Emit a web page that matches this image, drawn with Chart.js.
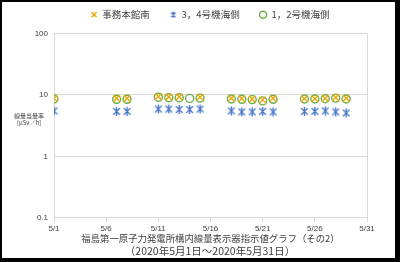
<!DOCTYPE html>
<html>
<head>
<meta charset="utf-8">
<script src="https://cdn.jsdelivr.net/npm/chart.js@4"></script>
<style>
  body { margin: 0; background: #fff; }
  #wrap { position: relative; width: 400px; height: 262px; }
  #frame {
    position: absolute; left: 0; top: 0; width: 400px; height: 262px; box-sizing: border-box;
    border-top: 2px solid #000; border-left: 2px solid #000;
    border-right: 5px solid #000; border-bottom: 4px solid #000;
    pointer-events: none;
  }
  #ytitle {
    position: absolute; left: 12px; top: 112px; width: 34px; text-align: center;
    font: 6px "Noto Sans CJK JP", sans-serif; line-height: 7px; color: #404040;
  }
</style>
</head>
<body>
<div id="wrap">
  <canvas id="chart" width="400" height="262"></canvas>
  <div id="ytitle">線量当量率<br>[μSv／h]</div>
  <div id="frame"></div>
</div>
<script>
"use strict";

// 日付（5月の日）
const days = [1, 7, 8, 11, 12, 13, 14, 15, 18, 19, 20, 21, 22, 25, 26, 27, 28, 29];

// 各測定点の値 [μSv/h]
const honkanMinami = [8.8, 8.8, 8.8, 9.4, 9.3, 9.3, null, 9.2, 8.8, 8.7, 8.6, 8.3, 8.8, 8.7, 8.7, 8.8, 9.1, 8.8];
const gouki34 = [5.5, 5.4, 5.4, 5.9, 5.9, 5.8, 5.8, 5.9, 5.5, 5.3, 5.3, 5.4, 5.3, 5.4, 5.4, 5.5, 5.3, 5.1];
const gouki12 = [8.6, 8.5, 8.5, 9.2, 9.0, 9.0, 8.8, 8.9, 8.6, 8.5, 8.4, 8.0, 8.5, 8.6, 8.6, 8.7, 8.9, 8.6];

const seriesNames = ['事務本館南', '3，4号機海側', '1，2号機海側'];
const yTicks = [0.1, 1, 10, 100];
const xTicks = [1, 6, 11, 16, 21, 26, 31];
const titleLine1 = '福島第一原子力発電所構内線量表示器指示値グラフ（その2）';
const titleLine2 = '（2020年5月1日～2020年5月31日）';

function toPoints(values) {
  return days.map((d, i) => ({ x: d, y: values[i] }));
}

// 青の「Ж」型マーカー
function makeStar(size) {
  const c = document.createElement('canvas');
  c.width = size;
  c.height = size;
  const g = c.getContext('2d');
  const m = size / 2;
  const d = size / 2 - 1;
  g.strokeStyle = '#4472C4';
  g.lineWidth = 1.4;
  g.beginPath();
  g.moveTo(m - d * 0.75, m - d * 0.75); g.lineTo(m + d * 0.75, m + d * 0.75);
  g.moveTo(m + d * 0.75, m - d * 0.75); g.lineTo(m - d * 0.75, m + d * 0.75);
  g.moveTo(m, m - d); g.lineTo(m, m + d);
  g.stroke();
  return c;
}
const star = makeStar(11);
const starSmall = makeStar(8);

// 凡例と下のタイトルをプロット領域の中央に寄せる
const centerOnPlot = {
  id: 'centerOnPlot',
  afterLayout(chart) {
    chart.legend.left = 53;
    chart.legend.top -= 4;
    chart.titleBlock.left = 53;
  }
};

const ctx = document.getElementById('chart');

new Chart(ctx, {
  type: 'scatter',
  data: {
    datasets: [{
      label: seriesNames[0],
      data: toPoints(honkanMinami),
      pointStyle: 'crossRot',
      pointRadius: 4.5,
      borderColor: '#F0A800',
      backgroundColor: '#F0A800',
      borderWidth: 1.4
    }, {
      label: seriesNames[1],
      data: toPoints(gouki34),
      pointStyle: star,
      borderColor: '#4472C4',
      backgroundColor: '#4472C4'
    }, {
      label: seriesNames[2],
      data: toPoints(gouki12),
      pointStyle: 'circle',
      pointRadius: 4,
      borderColor: '#70AD47',
      backgroundColor: 'rgba(0,0,0,0)',
      borderWidth: 1.4
    }]
  },
  plugins: [centerOnPlot],
  options: {
    responsive: false,
    animation: false,
    layout: { padding: { left: 0, right: 33, top: -6, bottom: 5 } },
    plugins: {
      tooltip: { enabled: false },
      legend: {
        position: 'top',
        labels: {
          usePointStyle: true,
          boxWidth: 7,
          boxHeight: 5,
          padding: 20,
          color: '#404040',
          font: { family: '"Noto Sans CJK JP"', size: 9.5 },
          generateLabels: chart => {
            const items = Chart.defaults.plugins.legend.labels.generateLabels(chart);
            items[1].pointStyle = starSmall;
            return items;
          }
        }
      },
      title: {
        display: true,
        position: 'bottom',
        text: titleLine2,
        color: '#404040',
        font: { family: '"Noto Sans CJK JP"', size: 10.5, weight: 'normal' },
        padding: 0
      }
    },
    scales: {
      x: {
        type: 'linear',
        min: 1,
        max: 31,
        afterBuildTicks: s => { s.ticks = xTicks.map(v => ({ value: v })); },
        ticks: {
          callback: v => '5/' + v,
          color: '#404040',
          font: { family: '"Liberation Sans"', size: 8 },
          maxRotation: 0,
          padding: 2
        },
        grid: {
          color: c => (c.tick && c.tick.value === 31 ? '#d9d9d9' : 'rgba(0,0,0,0)'),
          tickColor: '#d9d9d9',
          tickLength: 4
        },
        border: { color: '#d9d9d9' },
        title: {
          display: true,
          text: titleLine1,
          color: '#404040',
          font: { family: '"Noto Sans CJK JP"', size: 9.4 },
          padding: 0
        },
        afterFit: s => { s.height = 26.5; }
      },
      y: {
        type: 'logarithmic',
        min: 0.1,
        max: 100,
        afterBuildTicks: s => { s.ticks = yTicks.map(v => ({ value: v })); },
        ticks: {
          callback: v => String(v),
          color: '#404040',
          font: { family: '"Liberation Sans"', size: 8 },
          padding: 6
        },
        grid: { color: '#d9d9d9', drawTicks: false },
        border: { color: '#d9d9d9' },
        afterFit: s => { s.width = 54; }
      }
    }
  }
});
</script>
</body>
</html>
